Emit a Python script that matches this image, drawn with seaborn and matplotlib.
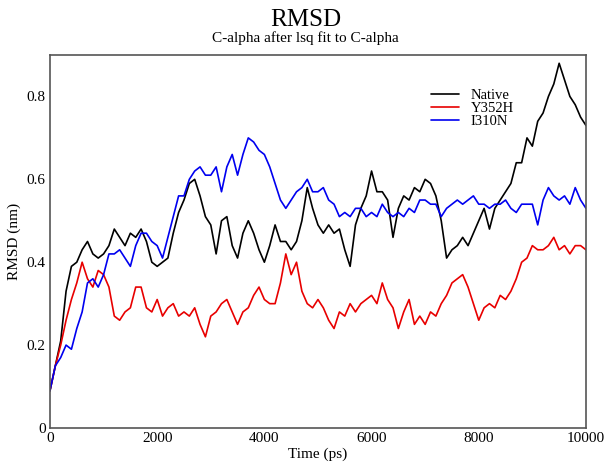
import numpy as np
import pandas as pd
import matplotlib
matplotlib.use("Agg")
import matplotlib.pyplot as plt
import seaborn as sns

time_ps = list(range(0, 10001, 100))

native = [0.09, 0.15, 0.21, 0.33, 0.39, 0.40, 0.43, 0.45, 0.42, 0.41,
          0.42, 0.44, 0.48, 0.46, 0.44, 0.47, 0.46, 0.48, 0.45, 0.40,
          0.39, 0.40, 0.41, 0.47, 0.52, 0.55, 0.59, 0.60, 0.56, 0.51,
          0.49, 0.42, 0.50, 0.51, 0.44, 0.41, 0.47, 0.50, 0.47, 0.43,
          0.40, 0.44, 0.49, 0.45, 0.45, 0.43, 0.45, 0.50, 0.58, 0.53,
          0.49, 0.47, 0.49, 0.47, 0.48, 0.43, 0.39, 0.49, 0.53, 0.56,
          0.62, 0.57, 0.57, 0.55, 0.46, 0.53, 0.56, 0.55, 0.58, 0.57,
          0.60, 0.59, 0.56, 0.50, 0.41, 0.43, 0.44, 0.46, 0.44, 0.47,
          0.50, 0.53, 0.48, 0.53, 0.55, 0.57, 0.59, 0.64, 0.64, 0.70,
          0.68, 0.74, 0.76, 0.80, 0.83, 0.88, 0.84, 0.80, 0.78, 0.75,
          0.73]

y352h = [0.09, 0.15, 0.20, 0.26, 0.31, 0.35, 0.40, 0.36, 0.34, 0.38,
         0.37, 0.34, 0.27, 0.26, 0.28, 0.29, 0.34, 0.34, 0.29, 0.28,
         0.31, 0.27, 0.29, 0.30, 0.27, 0.28, 0.27, 0.29, 0.25, 0.22,
         0.27, 0.28, 0.30, 0.31, 0.28, 0.25, 0.28, 0.29, 0.32, 0.34,
         0.31, 0.30, 0.30, 0.35, 0.42, 0.37, 0.40, 0.33, 0.30, 0.29,
         0.31, 0.29, 0.26, 0.24, 0.28, 0.27, 0.30, 0.28, 0.30, 0.31,
         0.32, 0.30, 0.35, 0.31, 0.29, 0.24, 0.28, 0.31, 0.25, 0.27,
         0.25, 0.28, 0.27, 0.30, 0.32, 0.35, 0.36, 0.37, 0.34, 0.30,
         0.26, 0.29, 0.30, 0.29, 0.32, 0.31, 0.33, 0.36, 0.40, 0.41,
         0.44, 0.43, 0.43, 0.44, 0.46, 0.43, 0.44, 0.42, 0.44, 0.44,
         0.43]

i310n = [0.09, 0.15, 0.17, 0.20, 0.19, 0.24, 0.28, 0.35, 0.36, 0.34,
         0.37, 0.42, 0.42, 0.43, 0.41, 0.39, 0.44, 0.47, 0.47, 0.45,
         0.44, 0.41, 0.46, 0.51, 0.56, 0.56, 0.60, 0.62, 0.63, 0.61,
         0.61, 0.63, 0.57, 0.63, 0.66, 0.61, 0.66, 0.70, 0.69, 0.67,
         0.66, 0.63, 0.59, 0.55, 0.53, 0.55, 0.57, 0.58, 0.60, 0.57,
         0.57, 0.58, 0.55, 0.54, 0.51, 0.52, 0.51, 0.53, 0.53, 0.51,
         0.52, 0.51, 0.54, 0.52, 0.51, 0.52, 0.51, 0.53, 0.52, 0.55,
         0.55, 0.54, 0.54, 0.51, 0.53, 0.54, 0.55, 0.54, 0.55, 0.56,
         0.54, 0.54, 0.53, 0.54, 0.54, 0.55, 0.53, 0.52, 0.54, 0.54,
         0.54, 0.49, 0.55, 0.58, 0.56, 0.55, 0.56, 0.54, 0.58, 0.55,
         0.53]

series_names = ["Native", "Y352H", "I310N"]
series_colors = ["#000000", "#e80000", "#0000f0"]
x_ticks = [0, 2000, 4000, 6000, 8000, 10000]
y_ticks = [0, 0.2, 0.4, 0.6, 0.8]
y_tick_labels = ["0", "0.2", "0.4", "0.6", "0.8"]

df = pd.concat([
    pd.DataFrame({"Time (ps)": time_ps, "RMSD (nm)": vals, "series": name})
    for name, vals in zip(series_names, [native, y352h, i310n])
], ignore_index=True)

sns.set_style("white")
plt.rcParams["font.family"] = ["Liberation Serif", "DejaVu Serif"]
plt.rcParams["text.color"] = "black"
plt.rcParams["axes.labelcolor"] = "black"
plt.rcParams["xtick.color"] = "black"
plt.rcParams["ytick.color"] = "black"

fig = plt.figure(figsize=(6.11, 4.68), dpi=100)
ax = fig.add_axes([0.0818, 0.0855, 0.8772, 0.797])

sns.lineplot(data=df, x="Time (ps)", y="RMSD (nm)", hue="series",
             hue_order=series_names, palette=series_colors,
             linewidth=1.2, ax=ax, estimator=None, sort=False)

ax.set_xlim(0, 10000)
ax.set_ylim(0, 0.9)
ax.set_xticks(x_ticks)
ax.set_xticklabels([str(t) for t in x_ticks])
ax.set_yticks(y_ticks)
ax.set_yticklabels(y_tick_labels)
ax.tick_params(axis="both", length=0, labelsize=11, pad=3, colors="black")
ax.set_xlabel("Time (ps)", fontsize=11, labelpad=2, color="black")
ax.set_ylabel("RMSD (nm)", fontsize=11, labelpad=4, color="black")
for s in ax.spines.values():
    s.set_color("#555555")
    s.set_linewidth(1.2)

leg = ax.legend(loc="upper left", bbox_to_anchor=(0.70, 0.925), frameon=False,
                fontsize=10.5, handlelength=1.9, handletextpad=0.8,
                labelspacing=0.0, borderaxespad=0)
for t in leg.get_texts():
    t.set_color("black")

fig.text(0.5, 0.958, "RMSD", ha="center", va="center", fontsize=18,
         color="black")
fig.text(0.5, 0.918, "C-alpha after lsq fit to C-alpha", ha="center",
         va="center", fontsize=11, color="black")

fig.savefig("out.png", dpi=100)
